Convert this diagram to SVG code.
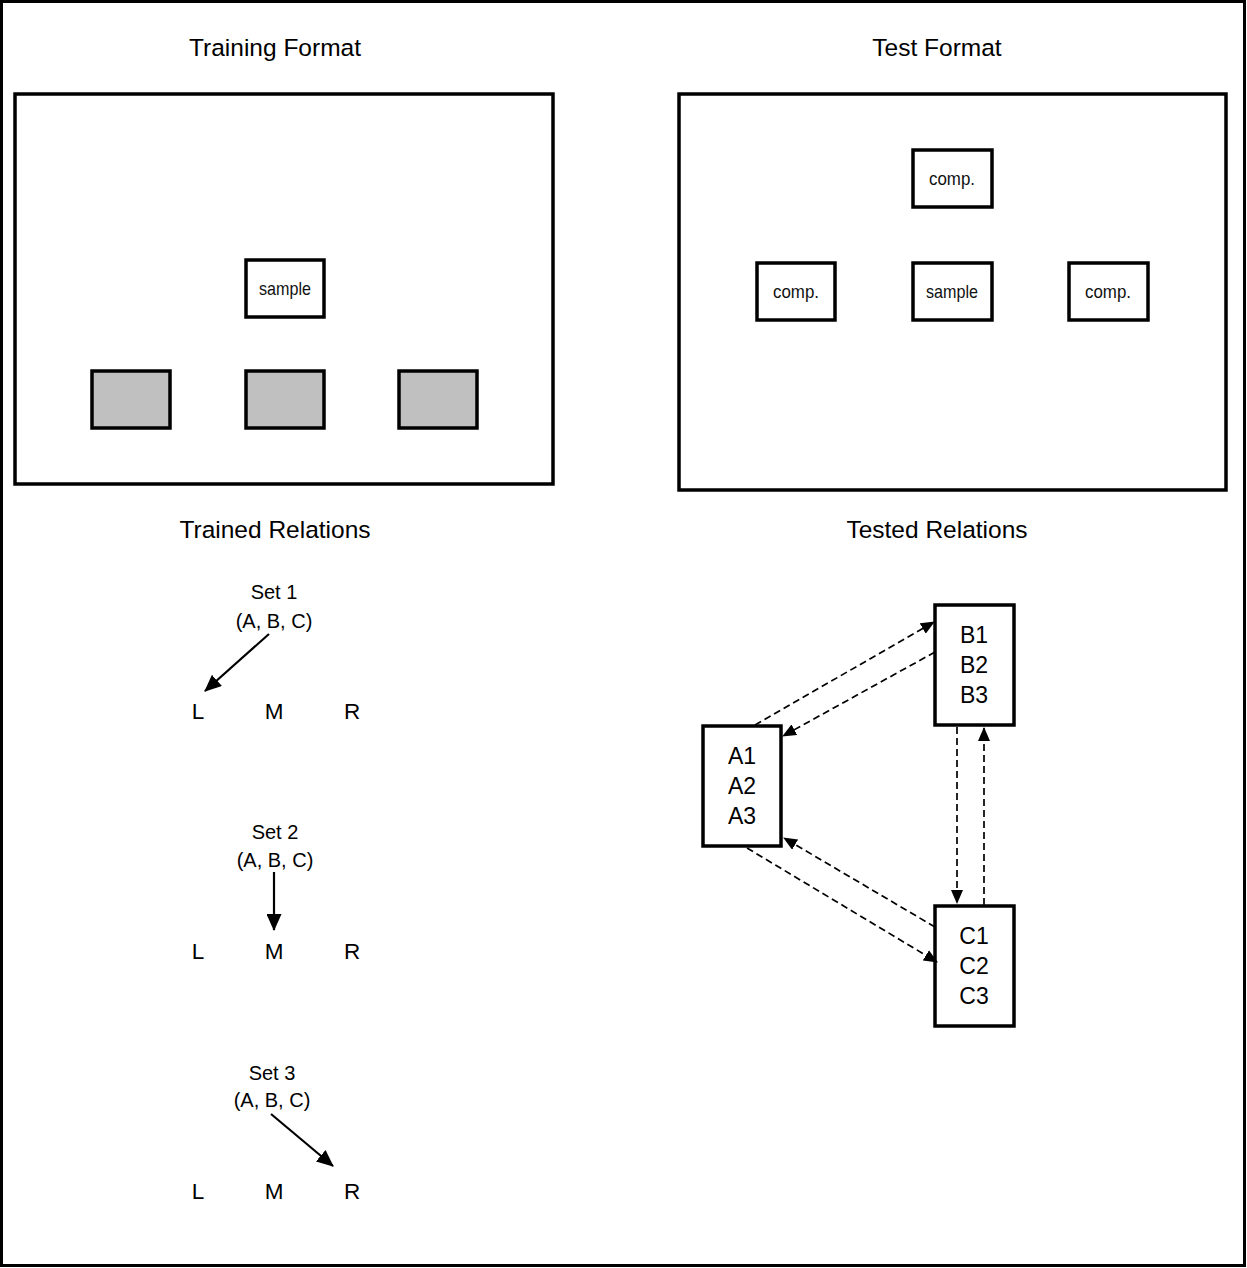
<svg xmlns="http://www.w3.org/2000/svg" width="1247" height="1268" viewBox="0 0 1247 1268">
  <style>
    .frame { fill: #fff; stroke: #000; stroke-width: 3; }
    .box { fill: #fff; stroke: #000; stroke-width: 3.5; }
    .grey { fill: #c0c0c0; stroke: #000; stroke-width: 3.5; }
    .title { font-family: "Liberation Sans", Arial, sans-serif; font-size: 24.5px; fill: #000; text-anchor: middle; }
    .small { font-family: "Liberation Sans", Arial, sans-serif; font-size: 20px; fill: #000; text-anchor: middle; }
    .lbl { font-family: "Liberation Sans", Arial, sans-serif; font-size: 19px; fill: #111; text-anchor: middle; }
    .pos { font-family: "Liberation Sans", Arial, sans-serif; font-size: 22.5px; fill: #000; text-anchor: middle; }
    .big { font-family: "Liberation Sans", Arial, sans-serif; font-size: 23px; fill: #000; text-anchor: middle; }
    .solid { stroke: #000; stroke-width: 2.2; fill: none; marker-end: url(#head); }
    .dash { stroke: #000; stroke-width: 1.7; fill: none; stroke-dasharray: 7 4; marker-end: url(#dhead); }
  </style>
  <defs>
    <marker id="head" viewBox="0 0 17 15" refX="16" refY="7.5" markerWidth="17" markerHeight="15" markerUnits="userSpaceOnUse" orient="auto">
      <path d="M0,0 L17,7.5 L0,15 z" fill="#000"/>
    </marker>
    <marker id="dhead" viewBox="0 0 14 12" refX="13" refY="6" markerWidth="14" markerHeight="12" markerUnits="userSpaceOnUse" orient="auto">
      <path d="M0,0 L14,6 L0,12 z" fill="#000"/>
    </marker>
  </defs>

  <rect x="1.5" y="1.5" width="1243" height="1264" class="frame"/>

  <text class="title" x="275" y="56">Training Format</text>
  <text class="title" x="937" y="56">Test Format</text>
  <text class="title" x="275" y="538">Trained Relations</text>
  <text class="title" x="937" y="538">Tested Relations</text>

  <!-- training screen -->
  <g id="training-screen">
    <rect x="15" y="94" width="538" height="390" class="box"/>
    <g id="train-sample">
      <rect x="246" y="260" width="78" height="57" class="box"/>
      <text class="lbl" x="285" y="295" textLength="52" lengthAdjust="spacingAndGlyphs">sample</text>
    </g>
    <rect id="train-left" x="92" y="371" width="78" height="57" class="grey"/>
    <rect id="train-mid" x="246" y="371" width="78" height="57" class="grey"/>
    <rect id="train-right" x="399" y="371" width="78" height="57" class="grey"/>
  </g>

  <!-- test screen -->
  <g id="test-screen">
    <rect x="679" y="94" width="547" height="396" class="box"/>
    <g id="test-top">
      <rect x="913" y="150" width="79" height="57" class="box"/>
      <text class="lbl" x="952" y="185" textLength="46" lengthAdjust="spacingAndGlyphs">comp.</text>
    </g>
    <g id="test-left">
      <rect x="757" y="263" width="78" height="57" class="box"/>
      <text class="lbl" x="796" y="298" textLength="46" lengthAdjust="spacingAndGlyphs">comp.</text>
    </g>
    <g id="test-sample">
      <rect x="913" y="263" width="79" height="57" class="box"/>
      <text class="lbl" x="952" y="298" textLength="52" lengthAdjust="spacingAndGlyphs">sample</text>
    </g>
    <g id="test-right">
      <rect x="1069" y="263" width="79" height="57" class="box"/>
      <text class="lbl" x="1108" y="298" textLength="46" lengthAdjust="spacingAndGlyphs">comp.</text>
    </g>
  </g>

  <!-- trained relations -->
  <g id="set1">
    <text class="small" x="274" y="599">Set 1</text>
    <text class="small" x="274" y="628">(A, B, C)</text>
    <text class="pos" x="198" y="719">L</text>
    <text class="pos" x="274" y="719">M</text>
    <text class="pos" x="352" y="719">R</text>
  </g>
  <g id="set2">
    <text class="small" x="275" y="839">Set 2</text>
    <text class="small" x="275" y="867">(A, B, C)</text>
    <text class="pos" x="198" y="959">L</text>
    <text class="pos" x="274" y="959">M</text>
    <text class="pos" x="352" y="959">R</text>
  </g>
  <g id="set3">
    <text class="small" x="272" y="1080">Set 3</text>
    <text class="small" x="272" y="1107">(A, B, C)</text>
    <text class="pos" x="198" y="1199">L</text>
    <text class="pos" x="274" y="1199">M</text>
    <text class="pos" x="352" y="1199">R</text>
  </g>

  <!-- tested relations -->
  <g id="node-b">
    <rect x="935" y="605" width="79" height="120" class="box"/>
    <text class="big" x="974" y="643">B1</text>
    <text class="big" x="974" y="673">B2</text>
    <text class="big" x="974" y="703">B3</text>
  </g>
  <g id="node-a">
    <rect x="703" y="726" width="78" height="120" class="box"/>
    <text class="big" x="742" y="764">A1</text>
    <text class="big" x="742" y="794">A2</text>
    <text class="big" x="742" y="824">A3</text>
  </g>
  <g id="node-c">
    <rect x="935" y="906" width="79" height="120" class="box"/>
    <text class="big" x="974" y="944">C1</text>
    <text class="big" x="974" y="974">C2</text>
    <text class="big" x="974" y="1004">C3</text>
  </g>

  <g id="connectors">
    <line class="solid" x1="269" y1="634" x2="205" y2="691"/>
    <line class="solid" x1="274" y1="872" x2="274" y2="930"/>
    <line class="solid" x1="271" y1="1114" x2="333" y2="1166"/>

    <line class="dash" x1="755" y1="725" x2="934" y2="622"/>
    <line class="dash" x1="935" y1="652" x2="783" y2="736"/>
    <line class="dash" x1="957" y1="727" x2="957" y2="903"/>
    <line class="dash" x1="984" y1="905" x2="984" y2="728"/>
    <line class="dash" x1="935" y1="927" x2="784" y2="838"/>
    <line class="dash" x1="747" y1="848" x2="937" y2="962"/>
  </g>
</svg>
